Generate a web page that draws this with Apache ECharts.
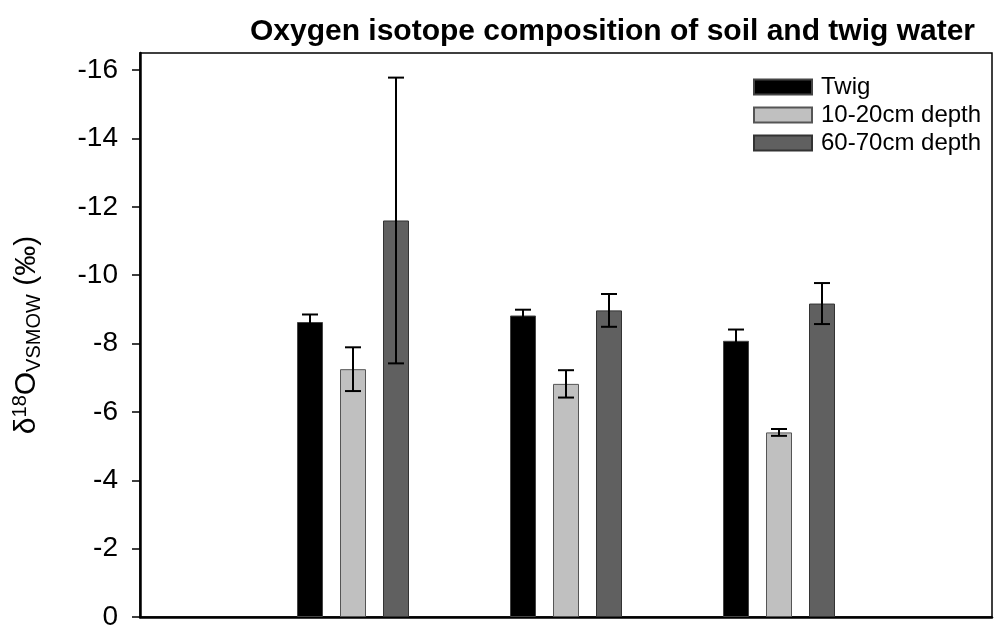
<!DOCTYPE html>
<html>
<head>
<meta charset="utf-8">
<script src="https://cdn.jsdelivr.net/npm/echarts@6/dist/echarts.min.js"></script>
<style>
    html, body { margin: 0; padding: 0; background: #fff; }
    #myChart { width: 996px; height: 631px; }
</style>
</head>
<body>
<div id="myChart"></div>
<script>
    // slots on the x axis, the outer two are empty padding
    var categories = ['s0', 'g1', 'g2', 'g3', 's4']
    var seriesNames = ['Twig', '10-20cm depth', '60-70cm depth']
    var twig = ['-', -8.63, -8.82, -8.08, '-']
    var twigErr = [0, 0.22, 0.17, 0.33, 0]
    var shallow = ['-', -7.25, -6.82, -5.40, '-']
    var shallowErr = [0, 0.64, 0.40, 0.10, 0]
    var deep = ['-', -11.6, -8.97, -9.17, '-']
    var deepErr = [0, 4.18, 0.48, 0.60, 0]
    var yTicks = [0, -2, -4, -6, -8, -10, -12, -14, -16]

    var BAR_W = 26
    var BAR_STEP = 43
    var CAP_W = 16
    var colors = ['#000000', '#c0c0c0', '#606060']

    function errData(vals, errs, k) {
        var out = []
        vals.forEach(function (v, i) {
            if (v !== '-') out.push([i, v, errs[i], k])
        })
        return out
    }

    function renderErr(params, api) {
        var idx = api.value(0)
        var v = api.value(1)
        var e = api.value(2)
        var k = api.value(3)
        var dx = (k - 1) * BAR_STEP
        var hi = api.coord([idx, v - e])
        var lo = api.coord([idx, v + e])
        var x = hi[0] + dx
        var st = { stroke: '#000', lineWidth: 2 }
        return {
            type: 'group',
            children: [
                { type: 'line', shape: { x1: x, y1: hi[1], x2: x, y2: lo[1] }, style: st },
                { type: 'line', shape: { x1: x - CAP_W / 2, y1: hi[1], x2: x + CAP_W / 2, y2: hi[1] }, style: st },
                { type: 'line', shape: { x1: x - CAP_W / 2, y1: lo[1], x2: x + CAP_W / 2, y2: lo[1] }, style: st }
            ]
        }
    }

    var myChart = echarts.init(document.getElementById('myChart'))
    myChart.setOption({
        animation: false,
        textStyle: { fontFamily: 'Liberation Sans, Arial, sans-serif', color: '#000' },
        title: {
            text: 'Oxygen isotope composition of soil and twig water',
            right: 16,
            top: 12,
            textStyle: { fontSize: 30, fontWeight: 'bold', color: '#000' }
        },
        legend: {
            left: 748,
            top: 70,
            orient: 'vertical',
            itemWidth: 58,
            itemHeight: 15,
            itemGap: 4,
            icon: 'rect',
            data: seriesNames,
            textStyle: { fontSize: 24, color: '#000', padding: [0, 0, 0, 4] }
        },
        grid: {
            left: 140,
            right: 4,
            top: 53,
            bottom: 9,
            show: true,
            borderColor: '#000',
            borderWidth: 1.5,
            backgroundColor: '#fff'
        },
        xAxis: {
            type: 'category',
            data: categories,
            boundaryGap: false,
            axisLine: { lineStyle: { color: '#000', width: 2.5 } },
            axisTick: { show: false },
            axisLabel: { show: false },
            splitLine: { show: false }
        },
        yAxis: {
            type: 'value',
            min: -16.5,
            max: 0,
            inverse: true,
            name: '{a|δ}{s|18}{a|O}{b|VSMOW}{a| (‰)}',
            nameLocation: 'middle',
            nameRotate: 90,
            nameGap: 96,
            nameTextStyle: {
                rich: {
                    a: { fontSize: 30, color: '#000', verticalAlign: 'middle' },
                    s: { fontSize: 20, color: '#000', verticalAlign: 'top', padding: [0, 0, 14, 0] },
                    b: { fontSize: 20, color: '#000', verticalAlign: 'bottom', padding: [14, 0, 0, 0] }
                }
            },
            axisLine: { show: true, lineStyle: { color: '#000', width: 2.5 } },
            axisTick: { show: true, length: 8, customValues: yTicks, lineStyle: { color: '#000', width: 1.5 } },
            axisLabel: { customValues: yTicks, fontSize: 28, color: '#000', margin: 22 },
            splitLine: { show: false }
        },
        series: [
            {
                name: seriesNames[0], type: 'bar', data: twig,
                barWidth: BAR_W, barGap: ((BAR_STEP - BAR_W) / BAR_W * 100) + '%',
                itemStyle: { color: colors[0], borderColor: '#444', borderWidth: 1 }
            },
            {
                name: seriesNames[1], type: 'bar', data: shallow,
                barWidth: BAR_W,
                itemStyle: { color: colors[1], borderColor: '#555', borderWidth: 1 }
            },
            {
                name: seriesNames[2], type: 'bar', data: deep,
                barWidth: BAR_W,
                itemStyle: { color: colors[2], borderColor: '#333', borderWidth: 1 }
            },
            { type: 'custom', renderItem: renderErr, data: errData(twig, twigErr, 0), z: 10 },
            { type: 'custom', renderItem: renderErr, data: errData(shallow, shallowErr, 1), z: 10 },
            { type: 'custom', renderItem: renderErr, data: errData(deep, deepErr, 2), z: 10 }
        ]
    })
</script>
</body>
</html>
